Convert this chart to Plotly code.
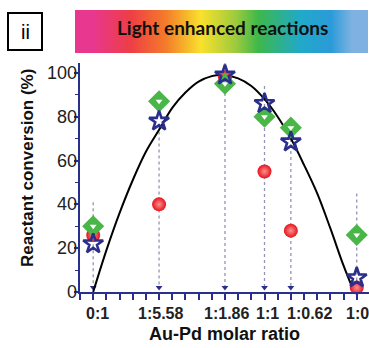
import plotly.graph_objects as go

# ---- data ----
cat_labels = ["0:1", "1:5.58", "1:1.86", "1:1", "1:0.62", "1:0"]
cat_pos = [1, 6, 11, 14, 16, 21]
green_vals = [30, 87, 95, 80, 75, 26]
star_vals = [22, 78, 99, 86, 68.5, 6.5]
red_vals = [26, 40, 98, 55, 28, 2]
drop_top = [41, 76, 104.5, 94, 78, 45]

curve_x = [1, 2, 3, 4, 5, 6, 7, 8, 9, 10, 10.8, 12, 13, 14, 15, 16, 17, 18, 19, 20, 20.8]
curve_y = [0, 19, 36, 51, 64, 74, 84, 91, 96, 98.5, 99, 97.5, 94, 88, 80, 70, 58, 45, 29, 12, 0]

y_ticks = [0, 20, 40, 60, 80, 100]
x_ticks = list(range(0, 22))

NAVY = "#2b2f8c"

W, H = 369, 348
ML, MR, MT, MB = 70, 0, 8, 56
pw, ph = W - ML - MR, H - MT - MB
def px(x):
    return (x - ML) / pw
def py(y):
    return (H - MB - y) / ph

# label centres (pixels) as placed in the reference
label_px = [97, 160, 226, 267, 309, 344]
label_anchor = ["center", "center", "center", "center", "center", "left"]

fig = go.Figure()

# gradient banner (heatmap on its own axes)
fig.add_trace(go.Heatmap(
    z=[[0, 1, 2, 3, 4, 5, 6, 7, 8]], xaxis="x2", yaxis="y2", zsmooth="best", showscale=False,
    colorscale=[[0, "#e8378f"], [0.15, "#ee3e45"], [0.28, "#f47a2a"], [0.42, "#f9e12c"],
                [0.55, "#9fcb3c"], [0.64, "#3db84b"], [0.8, "#21a9c9"], [0.92, "#2a9bd8"],
                [1, "#7fb2e2"]], hoverinfo="skip"))

# dotted drop lines with arrowheads
for xv, top in zip(cat_pos, drop_top):
    fig.add_trace(go.Scatter(x=[xv, xv], y=[top, 1.5], mode="lines",
                             line=dict(color="#9494b4", width=1.3, dash="dot"),
                             showlegend=False, hoverinfo="skip"))
fig.add_trace(go.Scatter(x=cat_pos, y=[2] * len(cat_pos), mode="markers",
                         marker=dict(symbol="triangle-down", size=6, color=NAVY),
                         showlegend=False, cliponaxis=False))

# fitted curve
fig.add_trace(go.Scatter(x=curve_x, y=curve_y, mode="lines", line_shape="spline",
                         line=dict(color="black", width=2), showlegend=False))

# red spheres
fig.add_trace(go.Scatter(x=cat_pos, y=red_vals, mode="markers", cliponaxis=False,
                         marker=dict(symbol="circle", size=14, color="#e3141c",
                                     gradient=dict(type="radial", color="#ff9090"),
                                     line=dict(width=0)), showlegend=False))
# green diamonds
fig.add_trace(go.Scatter(x=cat_pos, y=green_vals, mode="markers", cliponaxis=False,
                         marker=dict(symbol="diamond", size=17, color="#4ab648",
                                     line=dict(width=0)), showlegend=False))
fig.add_trace(go.Scatter(x=cat_pos, y=green_vals, mode="markers", cliponaxis=False,
                         marker=dict(symbol="triangle-down", size=6, color="white",
                                     line=dict(width=0)), showlegend=False))
# blue stars
fig.add_trace(go.Scatter(x=cat_pos, y=star_vals, mode="markers", cliponaxis=False,
                         marker=dict(symbol="star-open", size=15, color=NAVY,
                                     line=dict(width=2.6, color=NAVY)), showlegend=False))

annotations = [
    dict(text="ii", xref="paper", yref="paper", x=px(25), y=py(32), showarrow=False,
         font=dict(family="Liberation Sans, Arial", size=20, color="black"),
         xanchor="center", yanchor="middle"),
    dict(text="<b>Light enhanced reactions</b>", xref="paper", yref="paper",
         x=px(222), y=py(27), showarrow=False,
         font=dict(family="Lato", size=19, color="#111"),
         xanchor="center", yanchor="middle"),
    dict(text="<b>Reactant conversion (%)</b>", xref="paper", yref="paper",
         x=px(27), y=py(168), showarrow=False, textangle=-90,
         font=dict(family="Liberation Sans, Arial", size=17, color="#111"),
         xanchor="center", yanchor="middle"),
    dict(text="<b>Au-Pd molar ratio</b>", xref="paper", yref="paper",
         x=px(224), y=py(334), showarrow=False,
         font=dict(family="Liberation Sans, Arial", size=18, color="#111"),
         xanchor="center", yanchor="middle"),
]
for lab, lx, anc in zip(cat_labels, label_px, label_anchor):
    annotations.append(dict(text="<b>%s</b>" % lab, xref="paper", yref="paper",
                            x=px(lx), y=py(313), showarrow=False, xanchor=anc,
                            yanchor="middle",
                            font=dict(family="Liberation Sans, Arial", size=16, color="#222")))
# y tick labels placed close to the axis, as in the reference
for v in y_ticks:
    annotations.append(dict(text=str(v), xref="paper", yref="y", x=px(78), y=v,
                            showarrow=False, xanchor="right", yanchor="middle",
                            xshift=0, borderpad=0,
                            font=dict(family="Liberation Sans, Arial", size=18, color="#222")))

fig.update_layout(
    width=W, height=H, margin=dict(l=ML, r=MR, t=MT, b=MB),
    plot_bgcolor="white", paper_bgcolor="white", showlegend=False,
    xaxis=dict(domain=[px(80), 1], range=[0, 21.93], tickvals=x_ticks, showticklabels=False,
               showline=True, linecolor=NAVY, linewidth=2, ticks="outside", ticklen=6,
               tickwidth=1.6, tickcolor=NAVY, showgrid=False, zeroline=False),
    yaxis=dict(domain=[0, py(63)], range=[0, 104.5], tickvals=y_ticks, showticklabels=False,
               showline=True, linecolor=NAVY, linewidth=2, ticks="outside", ticklen=4,
               tickwidth=1.6, tickcolor=NAVY, showgrid=False, zeroline=False,
               minor=dict(dtick=10, tick0=0, ticks="outside", ticklen=3, tickwidth=1.4,
                          tickcolor=NAVY, showgrid=False)),
    xaxis2=dict(domain=[px(75), px(368)], anchor="y2", visible=False, range=[-0.5, 8.5]),
    yaxis2=dict(domain=[py(53), py(10)], anchor="x2", visible=False, range=[-0.5, 0.5]),
    shapes=[dict(type="rect", xref="paper", yref="paper", x0=px(8), x1=px(42),
                 y0=py(50), y1=py(13), line=dict(color="black", width=2))],
    annotations=annotations,
)

fig.write_html("out.html")
